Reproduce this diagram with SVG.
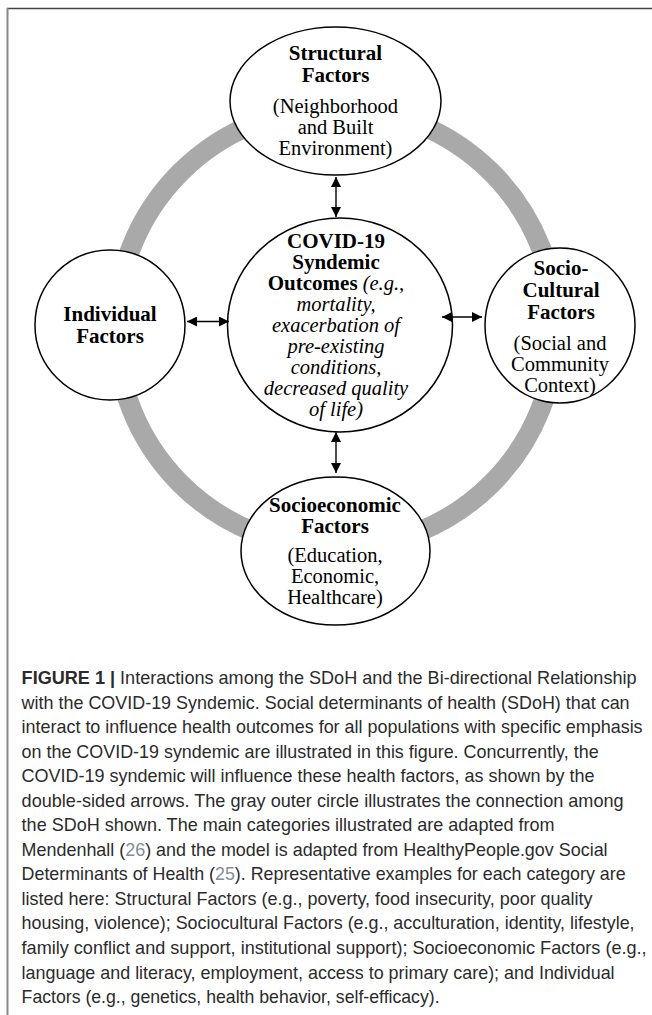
<svg xmlns="http://www.w3.org/2000/svg" width="652" height="1015" viewBox="0 0 652 1015">
<style>
  .node ellipse { fill: #ffffff; stroke: #000000; stroke-width: 1.5; }
  .t { font-family: "Liberation Serif", "Times New Roman", serif; font-size: 20.5px; fill: #000; text-anchor: middle; }
  .b { font-weight: bold; font-size: 21px; }
  .i { font-style: italic; }
  .arrow { stroke: #000; stroke-width: 1.4; fill: none; marker-start: url(#ah); marker-end: url(#ah); }
  .cap { font-family: "Liberation Sans", Arial, sans-serif; font-size: 18.5px; fill: #2b2b2b; }
  .capb { font-weight: bold; }
  .ref { fill: #7f8f98; }
</style>
<defs>
  <marker id="ah" viewBox="0 0 10 10" refX="10" refY="5" markerWidth="10" markerHeight="10" markerUnits="userSpaceOnUse" orient="auto-start-reverse">
    <path d="M0,0 L10,5 L0,10 z" fill="#000"/>
  </marker>
</defs>
<rect x="0" y="0" width="652" height="1015" fill="#ffffff"/>
<g id="frame">
  <line x1="7" y1="8.5" x2="652" y2="8.5" stroke="#444" stroke-width="1.6"/>
  <line x1="7.5" y1="8" x2="7.5" y2="1015" stroke="#888" stroke-width="2"/>
</g>
<g id="ring">
  <circle cx="336" cy="328" r="220" fill="none" stroke="#a9a9a9" stroke-width="20"/>
</g>
<g id="structural" class="node">
  <ellipse cx="335.5" cy="101" rx="105.5" ry="74"/>
  <text class="t b" x="335.5" y="60">Structural</text>
  <text class="t b" x="335.5" y="82">Factors</text>
  <text class="t" x="335.5" y="113">(Neighborhood</text>
  <text class="t" x="335.5" y="134">and Built</text>
  <text class="t" x="335.5" y="155">Environment)</text>
</g>
<g id="covid" class="node">
  <ellipse cx="340" cy="325" rx="112.5" ry="107"/>
  <text class="t b" x="336" y="248">COVID-19</text>
  <text class="t b" x="336" y="269">Syndemic</text>
  <text class="t" x="336" y="290"><tspan class="b">Outcomes</tspan><tspan class="i"> (e.g.,</tspan></text>
  <text class="t i" x="336" y="311">mortality,</text>
  <text class="t i" x="336" y="332">exacerbation of</text>
  <text class="t i" x="336" y="353">pre-existing</text>
  <text class="t i" x="336" y="374">conditions,</text>
  <text class="t i" x="336" y="395">decreased quality</text>
  <text class="t i" x="336" y="416">of life)</text>
</g>
<g id="individual" class="node">
  <ellipse cx="110" cy="325" rx="75" ry="75"/>
  <text class="t b" x="110" y="321">Individual</text>
  <text class="t b" x="110" y="343">Factors</text>
</g>
<g id="sociocultural" class="node">
  <ellipse cx="560" cy="325.5" rx="75" ry="77.5"/>
  <text class="t b" x="561" y="275">Socio-</text>
  <text class="t b" x="561" y="297">Cultural</text>
  <text class="t b" x="561" y="319">Factors</text>
  <text class="t" x="560" y="350">(Social and</text>
  <text class="t" x="560" y="371">Community</text>
  <text class="t" x="560" y="392">Context)</text>
</g>
<g id="socioeconomic" class="node">
  <ellipse cx="335.5" cy="551" rx="94.5" ry="74"/>
  <text class="t b" x="335" y="512">Socioeconomic</text>
  <text class="t b" x="335" y="533">Factors</text>
  <text class="t" x="335" y="562">(Education,</text>
  <text class="t" x="335" y="583">Economic,</text>
  <text class="t" x="335" y="604">Healthcare)</text>
</g>
<g id="connectors">
  <line class="arrow" x1="336" y1="177" x2="336" y2="217"/>
  <line class="arrow" x1="336" y1="432" x2="336" y2="473"/>
  <line class="arrow" x1="187" y1="321.5" x2="229" y2="321.5"/>
  <line class="arrow" x1="442" y1="317" x2="482" y2="317"/>
</g>
<g id="caption">
  <text class="cap" x="21.6" y="684" textLength="615" lengthAdjust="spacingAndGlyphs"><tspan class="capb">FIGURE 1 |</tspan> Interactions among the SDoH and the Bi-directional Relationship</text>
  <text class="cap" x="21.6" y="708.5" textLength="608" lengthAdjust="spacingAndGlyphs">with the COVID-19 Syndemic. Social determinants of health (SDoH) that can</text>
  <text class="cap" x="21.6" y="733" textLength="621" lengthAdjust="spacingAndGlyphs">interact to influence health outcomes for all populations with specific emphasis</text>
  <text class="cap" x="21.6" y="757.6" textLength="577" lengthAdjust="spacingAndGlyphs">on the COVID-19 syndemic are illustrated in this figure. Concurrently, the</text>
  <text class="cap" x="21.6" y="782.2" textLength="573" lengthAdjust="spacingAndGlyphs">COVID-19 syndemic will influence these health factors, as shown by the</text>
  <text class="cap" x="21.6" y="806.7" textLength="602" lengthAdjust="spacingAndGlyphs">double-sided arrows. The gray outer circle illustrates the connection among</text>
  <text class="cap" x="21.6" y="831.2" textLength="533" lengthAdjust="spacingAndGlyphs">the SDoH shown. The main categories illustrated are adapted from</text>
  <text class="cap" x="21.6" y="855.8" textLength="586" lengthAdjust="spacingAndGlyphs">Mendenhall (<tspan class="ref">26</tspan>) and the model is adapted from HealthyPeople.gov Social</text>
  <text class="cap" x="21.6" y="880.3" textLength="604" lengthAdjust="spacingAndGlyphs">Determinants of Health (<tspan class="ref">25</tspan>). Representative examples for each category are</text>
  <text class="cap" x="21.6" y="904.9" textLength="571" lengthAdjust="spacingAndGlyphs">listed here: Structural Factors (e.g., poverty, food insecurity, poor quality</text>
  <text class="cap" x="21.6" y="929.4" textLength="613" lengthAdjust="spacingAndGlyphs">housing, violence); Sociocultural Factors (e.g., acculturation, identity, lifestyle,</text>
  <text class="cap" x="21.6" y="954" textLength="625" lengthAdjust="spacingAndGlyphs">family conflict and support, institutional support); Socioeconomic Factors (e.g.,</text>
  <text class="cap" x="21.6" y="978.5" textLength="593" lengthAdjust="spacingAndGlyphs">language and literacy, employment, access to primary care); and Individual</text>
  <text class="cap" x="21.6" y="1003" textLength="418" lengthAdjust="spacingAndGlyphs">Factors (e.g., genetics, health behavior, self-efficacy).</text>
</g>
</svg>
